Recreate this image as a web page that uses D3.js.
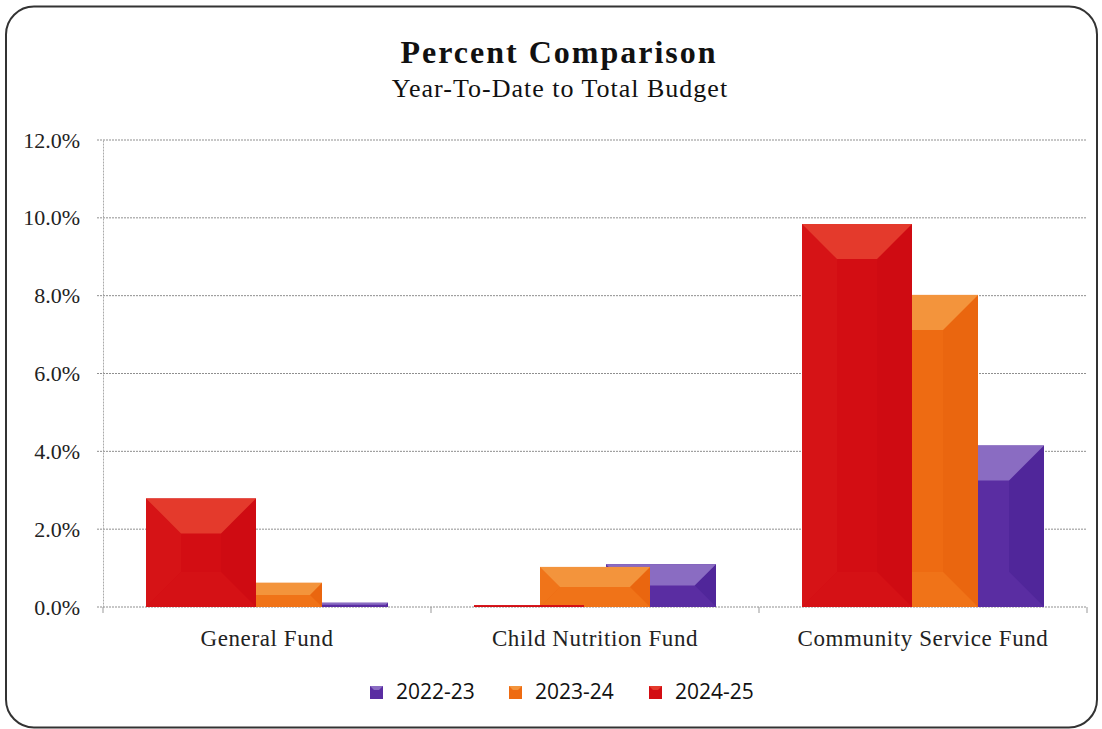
<!DOCTYPE html>
<html>
<head>
<meta charset="utf-8">
<script src="https://cdn.jsdelivr.net/npm/d3@7"></script>
<style>
  body { margin: 0; background: #fff; }
  svg { display: block; }
</style>
</head>
<body>
<svg width="1102" height="729"></svg>
<script>
// values (percent of total budget)
var categories = ["General Fund", "Child Nutrition Fund", "Community Service Fund"];
var seriesNames = ["2022-23", "2023-24", "2024-25"];
var fy2223 = [0.11, 1.10, 4.15];
var fy2324 = [0.62, 1.03, 8.02];
var fy2425 = [2.79, 0.05, 9.84];
var yTicks = [0, 2, 4, 6, 8, 10, 12];

function main(){
    var svg = d3.select("svg");

    var colors = {
        "2022-23": {front: "#5a2da2", top: "#8a6cc2", left: "#5e31a6", right: "#50269a", bottom: "#5a2da2"},
        "2023-24": {front: "#ee6b12", top: "#f3943c", left: "#f07419", right: "#ea660f", bottom: "#f07318"},
        "2024-25": {front: "#d30d13", top: "#e43a2c", left: "#d61316", right: "#cf0b12", bottom: "#d51115"}
    };
    var values = {"2022-23": fy2223, "2023-24": fy2324, "2024-25": fy2425};

    // card border
    svg.append("rect")
        .attr("x", 6).attr("y", 6.5)
        .attr("width", 1091).attr("height", 721)
        .attr("rx", 28).attr("ry", 28)
        .attr("fill", "#fff")
        .attr("stroke", "#333")
        .attr("stroke-width", 2);

    svg.append("text")
        .attr("x", 559).attr("y", 63)
        .attr("text-anchor", "middle")
        .attr("font-family", "Liberation Serif")
        .attr("font-weight", "bold")
        .attr("font-size", "32px")
        .attr("letter-spacing", "2px")
        .attr("fill", "#111")
        .text("Percent Comparison");

    svg.append("text")
        .attr("x", 560).attr("y", 97)
        .attr("text-anchor", "middle")
        .attr("font-family", "Liberation Serif")
        .attr("font-size", "26px")
        .attr("letter-spacing", "1px")
        .attr("fill", "#111")
        .text("Year-To-Date to Total Budget");

    var left = 103, right = 1087, top = 140, bottom = 607;

    var xScale = d3.scaleBand().domain(categories).range([left, right]).padding(0);
    var yScale = d3.scaleLinear().domain([0, 12]).range([bottom, top]);

    // bars overlap: red sits left and on top, purple right and at the back
    var groupWidth = 242, barWidth = 110;
    var xSub = d3.scalePoint().domain(["2024-25", "2023-24", "2022-23"]).range([0, groupWidth - barWidth]);

    // gridlines
    svg.append("g")
        .selectAll("line")
        .data(yTicks)
        .enter().append("line")
        .attr("x1", left - 6).attr("x2", right)
        .attr("y1", function(d){ return yScale(d); })
        .attr("y2", function(d){ return yScale(d); })
        .attr("stroke", "#8f8f8f")
        .attr("stroke-width", 1)
        .attr("stroke-dasharray", "2,1");

    // y axis
    var yAxis = svg.append("g")
        .attr("transform", "translate(" + left + ",0)")
        .call(d3.axisLeft(yScale).tickValues(yTicks).tickSize(0).tickPadding(23)
            .tickFormat(function(d){ return d.toFixed(1) + "%"; }));
    yAxis.select(".domain").attr("stroke", "#aaa").attr("stroke-dasharray", "2,1");
    yAxis.selectAll("text")
        .attr("font-family", "Liberation Serif")
        .attr("font-size", "22px")
        .attr("fill", "#222");

    // x axis
    var xAxis = svg.append("g")
        .attr("transform", "translate(0," + bottom + ")")
        .call(d3.axisBottom(xScale).tickSize(0).tickPadding(23));
    xAxis.select(".domain").remove();
    xAxis.selectAll("text")
        .attr("font-family", "Liberation Serif")
        .attr("font-size", "23px")
        .attr("letter-spacing", "0.6px")
        .attr("fill", "#222");
    svg.append("g")
        .selectAll("line")
        .data(d3.range(categories.length + 1))
        .enter().append("line")
        .attr("x1", function(i){ return i < categories.length ? xScale(categories[i]) : right; })
        .attr("x2", function(i){ return i < categories.length ? xScale(categories[i]) : right; })
        .attr("y1", bottom).attr("y2", bottom + 6)
        .attr("stroke", "#999");

    // bars, drawn back to front
    var drawOrder = ["2022-23", "2023-24", "2024-25"];
    drawOrder.forEach(function(s){
        var c = colors[s];
        categories.forEach(function(cat, i){
            var v = values[s][i];
            var x0 = xScale(cat) + (xScale.bandwidth() - groupWidth) / 2 + xSub(s);
            var x1 = x0 + barWidth;
            var y0 = yScale(v);
            var y1 = yScale(0);
            var h = Math.max(y1 - y0, 1.5);
            y0 = y1 - h;
            var b = Math.min(35, h / 2, barWidth / 2);
            var g = svg.append("g");
            g.append("rect").attr("x", x0).attr("y", y0)
                .attr("width", barWidth).attr("height", h).attr("fill", c.front);
            if (h > 4) {
                var poly = function(pts, fill){
                    g.append("polygon")
                        .attr("points", pts.map(function(p){ return p.join(","); }).join(" "))
                        .attr("fill", fill);
                };
                poly([[x0, y0], [x0 + b, y0 + b], [x0 + b, y1 - b], [x0, y1]], c.left);
                poly([[x1, y0], [x1 - b, y0 + b], [x1 - b, y1 - b], [x1, y1]], c.right);
                poly([[x0, y1], [x0 + b, y1 - b], [x1 - b, y1 - b], [x1, y1]], c.bottom);
                poly([[x0, y0], [x1, y0], [x1 - b, y0 + b], [x0 + b, y0 + b]], c.top);
            }
        });
    });

    // legend
    var legendX = [370, 509, 649];
    var legend = svg.append("g");
    seriesNames.forEach(function(s, i){
        legend.append("rect")
            .attr("x", legendX[i]).attr("y", 686)
            .attr("width", 13).attr("height", 13)
            .attr("fill", colors[s].front);
        legend.append("polygon")
            .attr("points", [[legendX[i], 686], [legendX[i] + 13, 686], [legendX[i] + 9, 690], [legendX[i] + 4, 690]]
                .map(function(p){ return p.join(","); }).join(" "))
            .attr("fill", colors[s].top);
        legend.append("text")
            .attr("x", legendX[i] + 26).attr("y", 699)
            .attr("font-family", "Open Sans")
            .attr("font-size", "21px")
            .attr("fill", "#111")
            .text(s);
    });
}
main();
</script>
</body>
</html>
